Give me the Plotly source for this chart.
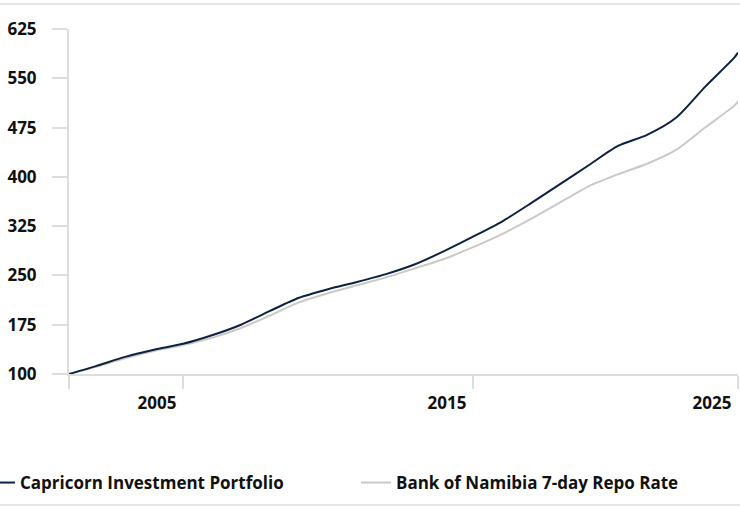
import plotly.graph_objects as go

dates = ["2001-01-26", "2002-01-01", "2003-01-01", "2004-01-01", "2005-01-01",
         "2006-01-01", "2007-01-01", "2008-01-01", "2009-01-01", "2010-01-01",
         "2011-01-01", "2012-01-01", "2013-01-01", "2014-01-01", "2015-01-01",
         "2016-01-01", "2017-01-01", "2018-01-01", "2019-01-01", "2020-01-01",
         "2021-01-01", "2022-01-01", "2023-01-01", "2024-01-01", "2024-02-20"]

capricorn = [100, 112, 126, 137, 146, 159, 175, 196, 216, 229, 240, 252, 267,
             287, 309, 332, 360, 389, 418, 447, 464, 490, 537, 581, 589]
repo = [100, 111, 124, 135, 144, 155, 170, 189, 209, 223, 235, 247, 261,
        275, 293, 313, 336, 361, 386, 404, 420, 441, 475, 508, 515]

series_names = ["Capricorn Investment Portfolio", "Bank of Namibia 7-day Repo Rate"]
series_colors = ["#0d2240", "#cbc9c6"]

x_tickvals = [dates[0], "2005-01-01", "2015-01-01", dates[-1]]
x_ticktext = ["", "2005", "2015", "2025"]
y_ticks = [100, 175, 250, 325, 400, 475, 550, 625]

FONT = "Open Sans"
FS = 17
PL, PW, PT, PH = 69, 669, 29, 345  # plot area in pixels

fig = go.Figure()
# repo first so that it is drawn under capricorn
fig.add_trace(go.Scatter(x=dates, y=repo, name=series_names[1], mode="lines",
                         legend="legend2",
                         line=dict(color=series_colors[1], width=2, shape="spline", smoothing=0.7)))
fig.add_trace(go.Scatter(x=dates, y=capricorn, name=series_names[0], mode="lines",
                         legend="legend",
                         line=dict(color=series_colors[0], width=2, shape="spline", smoothing=0.7)))

leg_font = dict(family=FONT, size=FS, color="#111111", weight="bold")
leg_y = (PT + PH - 483) / PH

fig.update_layout(
    width=740, height=508,
    margin=dict(l=PL, r=740 - PL - PW, t=PT, b=508 - PT - PH, autoexpand=False),
    paper_bgcolor="white", plot_bgcolor="white",
    font=dict(family=FONT, size=FS, color="#111111"),
    showlegend=True,
    legend=dict(orientation="h", x=(-20 - PL) / PW, y=leg_y,
                xanchor="left", yanchor="middle", font=leg_font,
                itemwidth=30, bgcolor="rgba(0,0,0,0)"),
    legend2=dict(orientation="h", x=(356 - PL) / PW, y=leg_y,
                 xanchor="left", yanchor="middle", font=leg_font,
                 itemwidth=30, bgcolor="rgba(0,0,0,0)"),
    xaxis=dict(type="date", range=[dates[0], dates[-1]], tickmode="array",
               tickvals=x_tickvals, ticktext=x_ticktext,
               showgrid=False, zeroline=False, showline=True,
               linecolor="#dddddd", linewidth=2,
               ticks="outside", ticklen=13, tickwidth=2, tickcolor="#dddddd",
               ticklabelshift=-26,
               tickfont=dict(family=FONT, size=FS, color="#111111", weight="bold")),
    yaxis=dict(range=[100, 625], tickmode="array", tickvals=y_ticks,
               showgrid=False, zeroline=False, showline=True,
               linecolor="#dddddd", linewidth=2,
               ticks="outside", ticklen=15, tickwidth=2, tickcolor="#dddddd",
               ticklabelstandoff=12,
               tickfont=dict(family=FONT, size=FS, color="#111111", weight="bold")),
    shapes=[
        dict(type="line", xref="paper", yref="paper", x0=-0.2, x1=1.1,
             y0=1 + 25 / PH, y1=1 + 25 / PH, line=dict(color="#e6e6e6", width=2)),
        dict(type="line", xref="paper", yref="paper", x0=-0.2, x1=1.1,
             y0=-(505 - PT - PH) / PH, y1=-(505 - PT - PH) / PH,
             line=dict(color="#e6e6e6", width=2)),
    ],
)

fig.write_html("out.html", config={"displayModeBar": False},
               post_script="document.body.style.margin='0';")
